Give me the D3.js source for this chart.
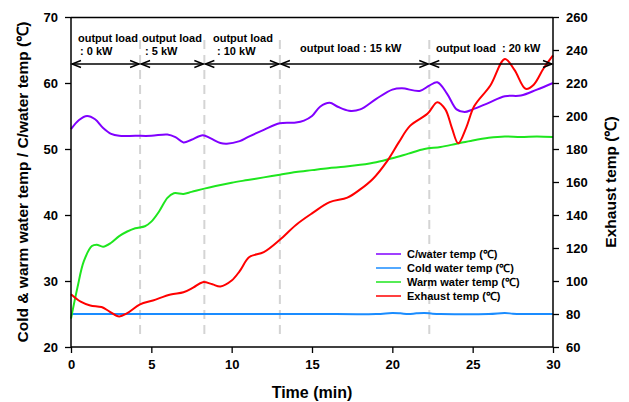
<!DOCTYPE html>
<html>
<head>
<meta charset="utf-8">
<script src="https://cdn.jsdelivr.net/npm/d3@7/dist/d3.min.js"></script>
<style>
  body { margin: 0; background: #fff; }
  text { font-family: "Liberation Sans", Arial, sans-serif; }
</style>
</head>
<body>
<svg width="629" height="402"></svg>
<script>
// C/water temp (left axis)
var cwTime = [0, 0.5, 1, 1.5, 2, 2.5, 3, 4, 5, 6, 6.5, 7, 7.5, 8.2, 8.7, 9.3, 9.7, 10.5, 11, 12, 13, 14, 14.5, 15, 15.5, 16.1, 16.6, 17.3, 18, 19, 20, 20.6, 21.7, 22.3, 22.8, 23.4, 24, 24.5, 25, 26, 27, 28, 29, 30];
var cwTemp = [53, 54.4, 55, 54.5, 53.2, 52.3, 52, 52, 52, 52.2, 51.8, 51, 51.4, 52.1, 51.6, 50.9, 50.8, 51.2, 51.8, 52.9, 53.9, 54, 54.3, 55, 56.4, 57, 56.4, 55.8, 56, 57.6, 59, 59.2, 58.8, 59.6, 60.1, 58.4, 56, 55.6, 56, 57, 58, 58.1, 59, 60];

// Cold water temp (left axis)
var coldTime = [0, 5, 10, 15, 19, 20, 20.5, 21, 21.5, 22, 22.5, 23, 26, 27, 27.5, 28, 30];
var coldTemp = [25, 25, 25, 25, 25, 25.15, 25.1, 25, 25.1, 25.15, 25.05, 25, 25, 25.15, 25.05, 25, 25];

// Warm water temp (left axis)
var warmTime = [0, 0.4, 0.8, 1.3, 1.6, 2, 2.5, 3, 3.5, 4, 4.6, 5, 5.5, 6, 6.4, 7, 7.5, 8.3, 9, 10, 11, 12, 13, 14, 15, 16, 17, 18, 19, 20, 21, 22, 23, 24, 25, 26, 27, 28, 29, 30];
var warmTemp = [24.3, 29, 33, 35.3, 35.5, 35.2, 35.8, 36.8, 37.5, 38, 38.3, 39, 40.6, 42.6, 43.3, 43.2, 43.5, 44, 44.4, 44.9, 45.3, 45.7, 46.1, 46.5, 46.8, 47.1, 47.3, 47.6, 48, 48.6, 49.3, 50, 50.3, 50.8, 51.3, 51.7, 51.9, 51.8, 51.9, 51.8];

// Exhaust temp (right axis)
var exTime = [0, 0.6, 1.2, 1.9, 2.4, 3, 3.5, 4.3, 5.1, 6.2, 7, 7.6, 8.2, 8.8, 9.3, 10, 10.5, 11.1, 12, 13, 14, 15, 16.1, 17.2, 18, 18.8, 19.7, 20.4, 21.1, 22.2, 22.8, 23.3, 23.7, 24.1, 24.6, 25.1, 26.1, 27, 27.6, 28.3, 28.8, 29.4, 30];
var exTemp = [92, 87.5, 85.2, 84.2, 81.5, 78.5, 80.5, 85.8, 88.2, 91.8, 93.2, 96, 99.3, 98, 96.7, 100.3, 106, 114.5, 117.5, 125, 134, 141, 147.8, 150.5, 155.5, 162, 173, 184, 194, 201.5, 208.4, 204, 193, 183.5, 193, 206, 218.5, 234.6, 228, 216.5, 219, 228.6, 236.7];

// load sections
var loadBounds = [0, 4.3, 8.3, 13.0, 22.3, 30];
var loadDividers = [4.3, 8.3, 13.0, 22.3];

var xTicks = [0, 5, 10, 15, 20, 25, 30];
var leftTicks = [20, 30, 40, 50, 60, 70];
var rightTicks = [60, 80, 100, 120, 140, 160, 180, 200, 220, 240, 260];

var seriesNames = ["C/water temp (\u2103)", "Cold water temp (\u2103)", "Warm water temp (\u2103)", "Exhaust temp (\u2103)"];
var seriesColors = ["#8000ff", "#1a8cff", "#1ee61e", "#ff0000"];

var svg = d3.select("svg");
var pLeft = 71, pRight = 553, pTop = 17, pBottom = 347;

var x = d3.scaleLinear().domain([0, 30]).range([pLeft, pRight]);
var yL = d3.scaleLinear().domain([20, 70]).range([pBottom, pTop]);
var yR = d3.scaleLinear().domain([60, 260]).range([pBottom, pTop]);

function zip(a, b) { return a.map(function(v, i) { return [v, b[i]]; }); }

// dashed dividers
svg.selectAll("line.div").data(loadDividers).enter()
  .append("line")
  .attr("x1", function(d) { return x(d); }).attr("x2", function(d) { return x(d); })
  .attr("y1", 40).attr("y2", 336)
  .attr("stroke", "#d4d4d4").attr("stroke-width", 2)
  .attr("stroke-dasharray", "9,6");

// series lines
function drawLine(xs, ys, yScale, color) {
  var line = d3.line()
    .x(function(d) { return x(d[0]); })
    .y(function(d) { return yScale(d[1]); })
    .curve(d3.curveCatmullRom.alpha(0.5));
  svg.append("path").datum(zip(xs, ys))
    .attr("d", line).attr("fill", "none")
    .attr("stroke", color).attr("stroke-width", 2);
}
drawLine(coldTime, coldTemp, yL, seriesColors[1]);
drawLine(warmTime, warmTemp, yL, seriesColors[2]);
drawLine(cwTime, cwTemp, yL, seriesColors[0]);
drawLine(exTime, exTemp, yR, seriesColors[3]);

// frame top
svg.append("line").attr("x1", pLeft).attr("x2", pRight).attr("y1", pTop + 0.5).attr("y2", pTop + 0.5)
  .attr("stroke", "#000").attr("stroke-width", 1.3);

// axes
var xAxis = svg.append("g").attr("transform", "translate(0," + pBottom + ")")
  .call(d3.axisBottom(x).tickValues(xTicks).tickSize(6).tickPadding(7));
var lAxis = svg.append("g").attr("transform", "translate(" + pLeft + ",0)")
  .call(d3.axisLeft(yL).tickValues(leftTicks).tickSize(6).tickPadding(7));
var rAxis = svg.append("g").attr("transform", "translate(" + pRight + ",0)")
  .call(d3.axisRight(yR).tickValues(rightTicks).tickSize(6).tickPadding(7));
[xAxis, lAxis, rAxis].forEach(function(g) {
  g.select(".domain").attr("stroke", "#000").attr("stroke-width", 1.5);
  g.selectAll(".tick line").attr("stroke", "#000").attr("stroke-width", 1.3);
  g.selectAll(".tick text").attr("font-size", 13).attr("font-weight", "bold")
    .attr("font-family", "Liberation Sans, Arial, sans-serif").attr("fill", "#000");
});
xAxis.select(".domain").attr("d", "M" + pLeft + ",0H" + pRight);
lAxis.select(".domain").attr("d", "M0," + pBottom + "V" + pTop);
rAxis.select(".domain").attr("d", "M0," + pBottom + "V" + pTop);

// load arrows
var arrowY = 64;
for (var i = 0; i < loadBounds.length - 1; i++) {
  var a = x(loadBounds[i]) + 1, b = x(loadBounds[i + 1]) - 1;
  svg.append("line").attr("x1", a).attr("x2", b).attr("y1", arrowY).attr("y2", arrowY)
    .attr("stroke", "#000").attr("stroke-width", 1.4);
  svg.append("path")
    .attr("d", "M" + (a + 9) + "," + (arrowY - 3.5) + "L" + a + "," + arrowY + "L" + (a + 9) + "," + (arrowY + 3.5) +
               "M" + (b - 9) + "," + (arrowY - 3.5) + "L" + b + "," + arrowY + "L" + (b - 9) + "," + (arrowY + 3.5))
    .attr("fill", "none").attr("stroke", "#000").attr("stroke-width", 1.4);
}

// load labels
var loadText = [
  {x: 78, y: 42, t: "output load"}, {x: 80, y: 55, t: ": 0 kW"},
  {x: 142, y: 42, t: "output load"}, {x: 145, y: 55, t: ": 5 kW"},
  {x: 213, y: 42, t: "output load"}, {x: 217, y: 55, t: ": 10 kW"},
  {x: 300, y: 52, t: "output load : 15 kW"},
  {x: 436, y: 52, t: "output load\u00a0\u00a0: 20 kW"}
];
svg.selectAll("text.load").data(loadText).enter().append("text")
  .attr("x", function(d) { return d.x; }).attr("y", function(d) { return d.y; })
  .attr("font-size", 11).attr("font-weight", "bold").text(function(d) { return d.t; });

// axis titles
svg.append("text").attr("x", 312).attr("y", 398).attr("text-anchor", "middle")
  .attr("font-size", 16).attr("font-weight", "bold").text("Time (min)");
svg.append("text").attr("transform", "translate(28,182) rotate(-90)").attr("text-anchor", "middle")
  .attr("font-size", 15.5).attr("font-weight", "bold").text("Cold & warm water temp / C/water temp (\u2103)");
svg.append("text").attr("transform", "translate(616,182) rotate(-90)").attr("text-anchor", "middle")
  .attr("font-size", 15.5).attr("font-weight", "bold").text("Exhaust temp (\u2103)");

// legend
var leg = svg.append("g").attr("transform", "translate(376,254)");
seriesNames.forEach(function(n, i) {
  leg.append("line").attr("x1", 0).attr("x2", 25).attr("y1", i * 14).attr("y2", i * 14)
    .attr("stroke", seriesColors[i]).attr("stroke-width", 1.5);
  leg.append("text").attr("x", 31).attr("y", i * 14 + 4).attr("font-size", 11)
    .attr("font-weight", "bold").text(n);
});
</script>
</body>
</html>
